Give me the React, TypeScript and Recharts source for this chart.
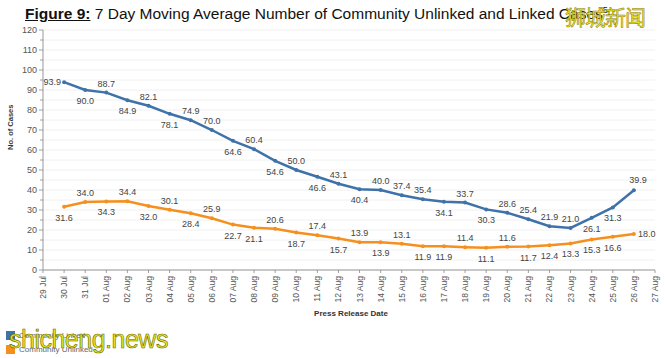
import React from 'react';
import { LineChart, Line, XAxis, YAxis, CartesianGrid, LabelList } from 'recharts';

const CATEGORIES = [
  '29 Jul', '30 Jul', '31 Jul', '01 Aug', '02 Aug', '03 Aug', '04 Aug', '05 Aug', '06 Aug', '07 Aug',
  '08 Aug', '09 Aug', '10 Aug', '11 Aug', '12 Aug', '13 Aug', '14 Aug', '15 Aug', '16 Aug', '17 Aug',
  '18 Aug', '19 Aug', '20 Aug', '21 Aug', '22 Aug', '23 Aug', '24 Aug', '25 Aug', '26 Aug', '27 Aug',
];

// values from 30 Jul to 26 Aug
const LINKED = [
  93.9, 90.0, 88.7, 84.9, 82.1, 78.1, 74.9, 70.0, 64.6, 60.4, 54.6, 50.0, 46.6, 43.1,
  40.4, 40.0, 37.4, 35.4, 34.1, 33.7, 30.3, 28.6, 25.4, 21.9, 21.0, 26.1, 31.3, 39.9,
];
const UNLINKED = [
  31.6, 34.0, 34.3, 34.4, 32.0, 30.1, 28.4, 25.9, 22.7, 21.1, 20.6, 18.7, 17.4, 15.7,
  13.9, 13.9, 13.1, 11.9, 11.9, 11.4, 11.1, 11.6, 11.7, 12.4, 13.3, 15.3, 16.6, 18.0,
];

const Y_TICKS = [0, 5, 10, 15, 20, 25, 30, 35, 40, 45, 50, 55, 60, 65, 70, 75, 80, 85, 90, 95, 100, 105, 110, 115, 120];

const SERIES_NAMES = ['Community Linked', 'Community Unlinked'];

// label placement (style), per data point 30 Jul..26 Aug
const LINKED_POS = [
  'left', 'below', 'above', 'below', 'above', 'below', 'above', 'above', 'below', 'above', 'below', 'above', 'below', 'above',
  'below', 'above', 'above', 'above', 'below', 'above', 'below', 'above', 'above', 'above', 'above', 'below', 'below', 'above',
];
const UNLINKED_POS = [
  'below', 'above', 'below', 'above', 'below', 'above', 'below', 'above', 'below', 'below', 'above', 'below', 'above', 'below',
  'above', 'below', 'above', 'below', 'below', 'above', 'below', 'above', 'below', 'below', 'below', 'below', 'below', 'right',
];

const BLUE = '#3f72a8';
const ORANGE = '#f5901f';
const FONT = '"Liberation Sans", Arial, sans-serif';

const data = CATEGORIES.map((date, i) => ({
  date,
  linked: i >= 1 && i <= LINKED.length ? LINKED[i - 1] : null,
  unlinked: i >= 1 && i <= UNLINKED.length ? UNLINKED[i - 1] : null,
}));

const makeLabel = (positions: string[]) => (props: any) => {
  const { x, y, value, index } = props;
  if (value == null || x == null || y == null) return null;
  const pos = positions[index - 1] || 'above';
  let tx = x;
  let ty = y - 6;
  let anchor: any = 'middle';
  if (pos === 'below') ty = y + 14;
  if (pos === 'left') { tx = x - 3; ty = y + 3; anchor = 'end'; }
  if (pos === 'right') { tx = x + 4; ty = y + 3; anchor = 'start'; }
  if (pos === 'above' && index === data.length - 2) { tx = x + 4; ty = y - 7; }
  return (
    <text x={tx} y={ty} textAnchor={anchor} fontSize={9} fill="#444" fontFamily={FONT}>
      {Number(value).toFixed(1)}
    </text>
  );
};

const YTick = (props: any) => {
  const { x, y, payload } = props;
  const major = payload.value % 10 === 0;
  return (
    <g>
      <line x1={x - (major ? 4 : 3)} y1={y} x2={x} y2={y} stroke="#888" strokeWidth={0.8} />
      {major && (
        <text x={x - 6} y={y} dy="0.35em" textAnchor="end" fontSize={9} fill="#555" fontFamily={FONT}>
          {payload.value}
        </text>
      )}
    </g>
  );
};

const XTick = (props: any) => {
  const { x, y, payload } = props;
  return (
    <g transform={`translate(${x},${y})`}>
      <line x1={0} y1={0} x2={0} y2={3} stroke="#888" strokeWidth={0.8} />
      <text x={-6} y={0} dy="0.35em" transform="rotate(-90)" textAnchor="end" fontSize={8.5} fill="#555" fontFamily={FONT}>
        {payload.value}
      </text>
    </g>
  );
};

export default function App() {
  const colors = [BLUE, ORANGE];
  return (
    <div style={{ position: 'absolute', left: 0, top: 0, width: 665, height: 358, background: '#fff', overflow: 'hidden' }}>
      <div
        style={{
          position: 'absolute', left: 25, top: 5, fontFamily: FONT, fontSize: 15.5, color: '#111', whiteSpace: 'nowrap',
        }}
      >
        <span style={{ fontWeight: 'bold', textDecoration: 'underline' }}>Figure 9:</span>
        <span> 7 Day Moving Average Number of Community Unlinked and Linked Cases</span>
        <sup style={{ fontSize: 9 }}>5</sup>
      </div>
      <div style={{ position: 'absolute', left: 0, top: 0 }}>
        <LineChart width={665} height={358} data={data} margin={{ top: 30, right: 10, bottom: 0, left: 0 }}>
          <CartesianGrid horizontal vertical={false} stroke="#f0f0f0" />
          <XAxis
            dataKey="date"
            type="category"
            height={88}
            interval={0}
            tickSize={0}
            tickMargin={0}
            tick={<XTick />}
            stroke="#999"
            label={{ value: 'Press Release Date', position: 'insideBottom', offset: 42, fontSize: 8, fontWeight: 'bold', fill: '#333', fontFamily: FONT, dx: 2 }}
          />
          <YAxis
            type="number"
            domain={[0, 120]}
            ticks={Y_TICKS}
            interval={0}
            width={43}
            tickSize={0}
            tickMargin={0}
            tick={<YTick />}
            stroke="#999"
            label={{ value: 'No. of Cases', angle: -90, position: 'insideLeft', offset: 10, fontSize: 7.5, fontWeight: 'bold', fill: '#333', fontFamily: FONT }}
          />
          <Line
            name={SERIES_NAMES[0]}
            dataKey="linked"
            stroke={BLUE}
            strokeWidth={2.5}
            dot={{ r: 2, fill: BLUE, stroke: BLUE, strokeWidth: 0 }}
            isAnimationActive={false}
          >
            <LabelList dataKey="linked" content={makeLabel(LINKED_POS)} />
          </Line>
          <Line
            name={SERIES_NAMES[1]}
            dataKey="unlinked"
            stroke={ORANGE}
            strokeWidth={2.5}
            dot={{ r: 2, fill: ORANGE, stroke: ORANGE, strokeWidth: 0 }}
            isAnimationActive={false}
          >
            <LabelList dataKey="unlinked" content={makeLabel(UNLINKED_POS)} />
          </Line>
        </LineChart>
      </div>
      <div style={{ position: 'absolute', left: 6, top: 328, fontFamily: FONT }}>
        {SERIES_NAMES.map((n, i) => (
          <div key={n} style={{ display: 'flex', alignItems: 'center', height: 14 }}>
            <div style={{ width: 9, height: 9, background: colors[i], marginRight: 4 }} />
            <span style={{ fontSize: 8, color: '#666' }}>{n}</span>
          </div>
        ))}
      </div>
      <div
        style={{
          position: 'absolute', left: 565, top: 1, fontFamily: '"Noto Sans CJK SC", sans-serif', fontSize: 21,
          color: '#f2e82a', WebkitTextStroke: '0.5px #8a7a00', whiteSpace: 'nowrap', letterSpacing: -1,
        }}
      >
        狮城新闻
      </div>
      <div
        style={{
          position: 'absolute', left: 9, top: 325, fontFamily: FONT, fontSize: 25,
          color: '#e8e623', WebkitTextStroke: '0.6px #6b6b00', whiteSpace: 'nowrap', letterSpacing: -0.5,
        }}
      >
        shicheng.news
      </div>
    </div>
  );
}
